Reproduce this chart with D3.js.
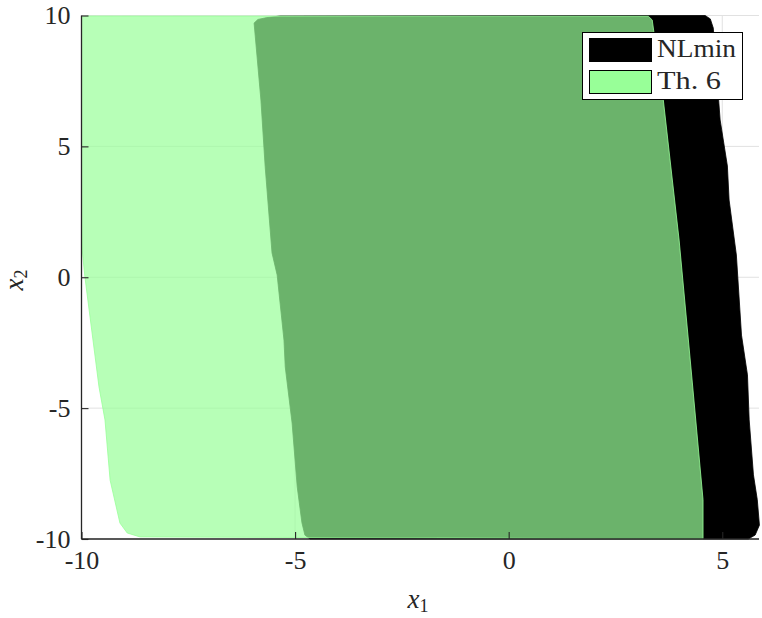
<!DOCTYPE html>
<html>
<head>
<meta charset="utf-8">
<script src="https://cdn.jsdelivr.net/npm/d3@7"></script>
<style>
  body { margin: 0; background: #fff; }
  svg text { font-family: "Liberation Serif", "Times New Roman", Times, serif; fill: #262626; }
</style>
</head>
<body>
<div id="chart"></div>
<script>
// region boundaries (x1, x2)
var nlmin_x1 = [-5.96, -5.87, -5.66, -5.35, 4.60, 4.72, 4.79, 4.95, 5.12, 5.16, 5.33, 5.45, 5.59, 5.63, 5.73, 5.82, 5.87, 5.77, 5.61,
                -4.65, -4.77, -4.84, -4.95, -5.07, -5.23, -5.26, -5.42, -5.54, -5.70, -5.80];
var nlmin_x2 = [9.71, 9.85, 9.92, 9.98, 10.0, 9.87, 9.52, 6.01, 4.25, 2.95, 0.85, -2.21, -3.73, -5.45, -7.55, -8.5, -9.47, -9.85, -10.0,
                -10.0, -9.85, -9.38, -8.01, -5.57, -3.43, -2.4, 0.09, 0.93, 4.22, 6.77];

var th6_x1 = [-10, -9.85, 3.27, 3.36, 3.62, 3.99, 4.30, 4.55, 4.55, -8.63, -8.93, -9.10, -9.33, -9.45, -9.59, -9.92, -9.99, -10];
var th6_x2 = [9.94, 9.98, 9.97, 9.83, 6.77, 1.42, -4.04, -8.5, -10.0, -9.92, -9.77, -9.39, -7.75, -5.45, -4.19, 0.01, 1.15, 2.19];

var series_names = ["NLmin", "Th. 6"];
var series_colors = ["#000000", "#98ff98"];
var x_ticks = [-10, -5, 0, 5];
var y_ticks = [-10, -5, 0, 5, 10];

var width = 762, height = 618;
var serif = "'Liberation Serif', 'Times New Roman', Times, serif";

var svg = d3.select("#chart").append("svg")
  .attr("width", width)
  .attr("height", height);

var x = d3.scaleLinear().domain([-10, 5.86]).range([81.5, 759]);
var y = d3.scaleLinear().domain([-10, 10]).range([539, 15.5]);

// grid
svg.append("g").selectAll("line.gx")
  .data(x_ticks).enter().append("line")
  .attr("x1", function(d) { return x(d); })
  .attr("x2", function(d) { return x(d); })
  .attr("y1", y(-10)).attr("y2", y(10))
  .attr("stroke", "#e1e1e1").attr("stroke-width", 1);
svg.append("g").selectAll("line.gy")
  .data(y_ticks).enter().append("line")
  .attr("x1", x(-10)).attr("x2", x(5.86))
  .attr("y1", function(d) { return y(d); })
  .attr("y2", function(d) { return y(d); })
  .attr("stroke", "#e1e1e1").attr("stroke-width", 1);

var line = d3.line().x(function(d) { return x(d[0]); }).y(function(d) { return y(d[1]); });

var nlmin = d3.zip(nlmin_x1, nlmin_x2);
var th6 = d3.zip(th6_x1, th6_x2);

svg.append("path")
  .attr("d", line(nlmin) + "Z")
  .attr("fill", series_colors[0])
  .attr("stroke", series_colors[0])
  .attr("stroke-width", 0.8)
  .attr("stroke-linejoin", "round");

svg.append("path")
  .attr("d", line(th6) + "Z")
  .attr("fill", series_colors[1])
  .attr("fill-opacity", 0.7)
  .attr("stroke", series_colors[1])
  .attr("stroke-width", 0.8)
  .attr("stroke-linejoin", "round");

// axes
var xAxis = d3.axisBottom(x).tickValues(x_ticks).tickSize(-7).tickPadding(12)
  .tickFormat(function(d) { return d < 0 ? "-" + Math.abs(d) : d; });
var yAxis = d3.axisLeft(y).tickValues(y_ticks).tickSize(-7).tickPadding(11)
  .tickFormat(function(d) { return d < 0 ? "-" + Math.abs(d) : d; });

var gx = svg.append("g").attr("transform", "translate(0," + y(-10) + ")").call(xAxis);
var gy = svg.append("g").attr("transform", "translate(" + x(-10) + ",0)").call(yAxis);

[gx, gy].forEach(function(g) {
  g.select(".domain").attr("stroke", "#262626").attr("stroke-width", 1.3);
  g.selectAll(".tick line").attr("stroke", "#262626").attr("stroke-width", 1.1);
  g.selectAll(".tick text")
    .attr("font-family", serif)
    .attr("font-size", 26)
    .attr("fill", "#262626");
});
gx.select(".domain").attr("d", "M" + x(-10) + ",0H" + x(5.86));
gy.select(".domain").attr("d", "M0," + y(-10) + "V" + y(10));

// axis labels
var xl = svg.append("text")
  .attr("x", 418).attr("y", 608)
  .attr("text-anchor", "middle")
  .attr("font-family", serif)
  .attr("font-size", 27);
xl.append("tspan").attr("font-style", "italic").text("x");
xl.append("tspan").attr("font-size", 18).attr("dy", 4).text("1");

var yl = svg.append("text")
  .attr("transform", "translate(23,280) rotate(-90)")
  .attr("text-anchor", "middle")
  .attr("font-family", serif)
  .attr("font-size", 27);
yl.append("tspan").attr("font-style", "italic").text("x");
yl.append("tspan").attr("font-size", 18).attr("dy", 4).text("2");

// legend
var legend = svg.append("g");
legend.append("rect")
  .attr("x", 582.5).attr("y", 32.5).attr("width", 160).attr("height", 67)
  .attr("fill", "#fff").attr("stroke", "#000").attr("stroke-width", 1);

legend.selectAll("rect.sw")
  .data(series_names).enter().append("rect")
  .attr("x", 589.5)
  .attr("y", function(d, i) { return 38.5 + i * 32; })
  .attr("width", 62).attr("height", 23)
  .attr("fill", function(d, i) { return series_colors[i]; })
  .attr("stroke", "#000").attr("stroke-width", 1);

var legend_widths = [79, 64];
legend.selectAll("text")
  .data(series_names).enter().append("text")
  .attr("x", 657)
  .attr("y", function(d, i) { return 57 + i * 32; })
  .attr("font-family", serif)
  .attr("font-size", 25)
  .attr("fill", "#000")
  .attr("textLength", function(d, i) { return legend_widths[i]; })
  .attr("lengthAdjust", "spacingAndGlyphs")
  .text(function(d) { return d; });
</script>
</body>
</html>
